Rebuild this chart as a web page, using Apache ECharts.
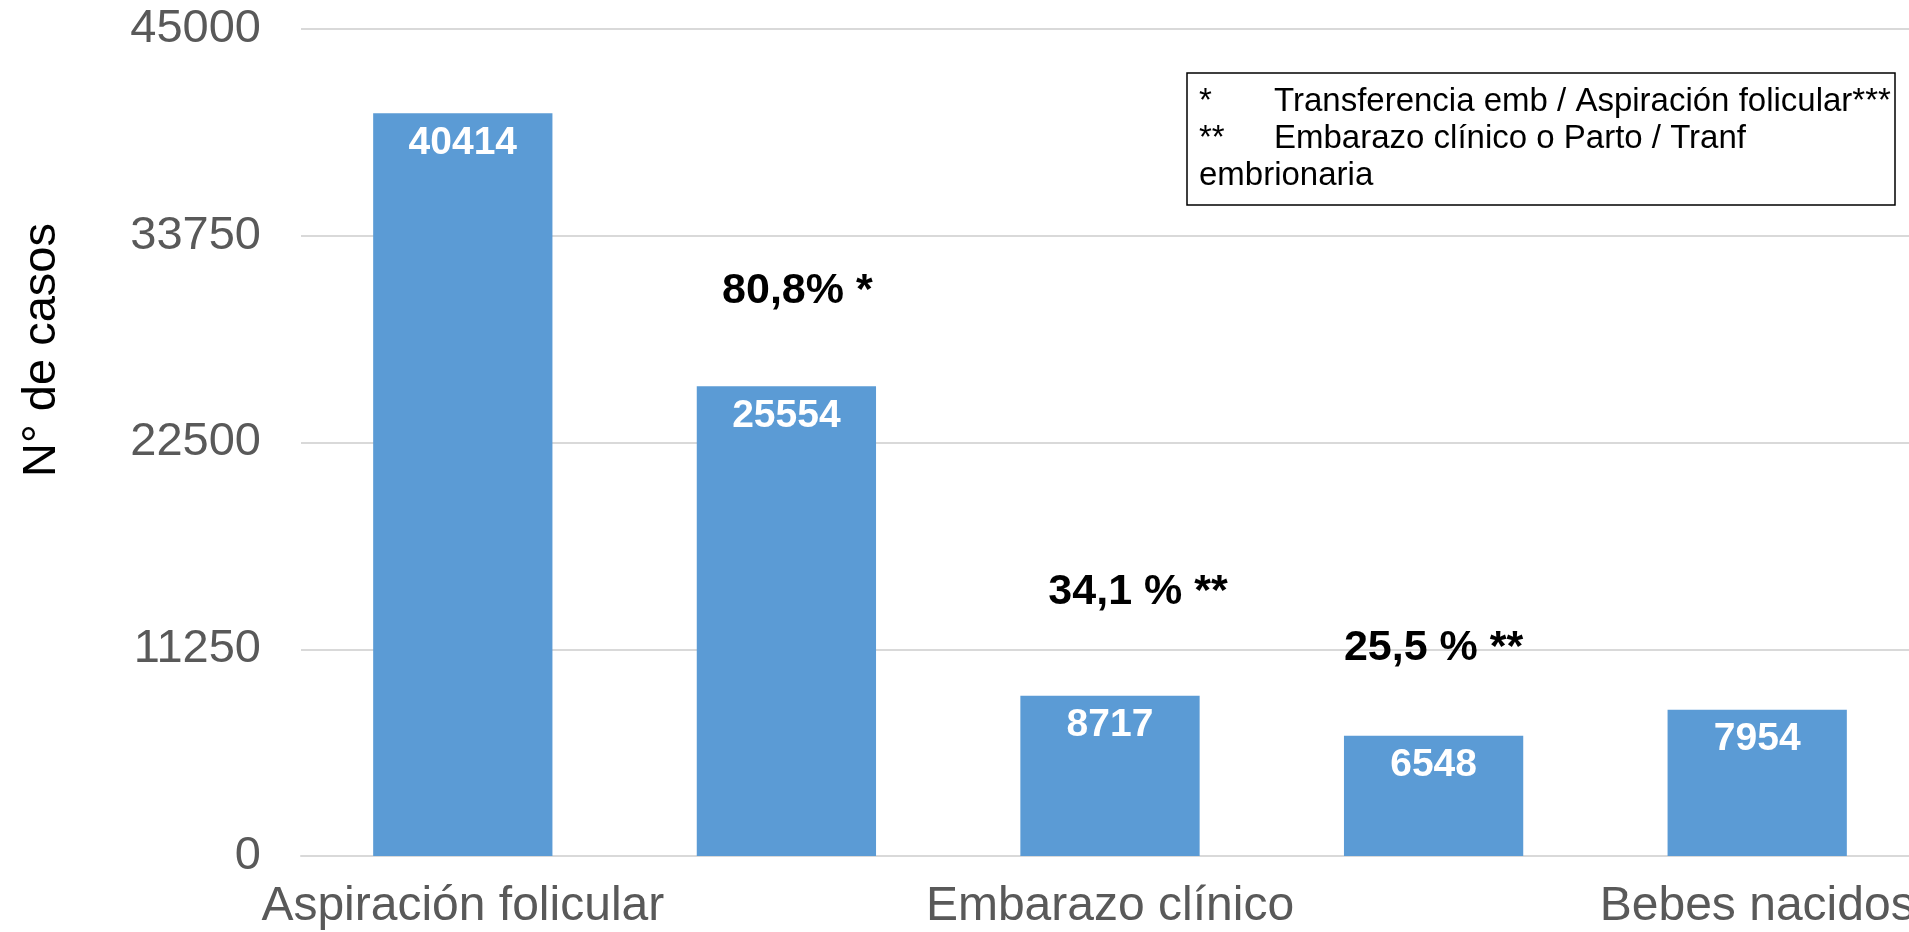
<!DOCTYPE html>
<html>
<head>
<meta charset="utf-8">
<script src="https://cdn.jsdelivr.net/npm/echarts@6/dist/echarts.min.js"></script>
<style>
html,body{margin:0;padding:0;background:#fff;}
#chart{width:1909px;height:932px;}
</style>
</head>
<body>
<div id="chart"></div>
<script>
const categories = ["Aspiración folicular", "Transferencia embrionaria", "Embarazo clínico", "Parto", "Bebes nacidos"];
const casos = [40414, 25554, 8717, 6548, 7954];
const annotations = ["", "80,8% *", "34,1 % **", "25,5 % **", ""];
const yTicks = [0, 11250, 22500, 33750, 45000];
const yAxisTitle = "N° de casos";
const noteLines = [
  ["*", "Transferencia emb / Aspiración folicular***"],
  ["**", "Embarazo clínico o Parto / Tranf"],
  ["", "embrionaria"]
];

// label layout tweaks for the hand-placed annotation text boxes
const annotationOffsets = [[0, 0], [11, 0], [28, -8], [0, 8], [0, 0]];

const FONT = "'Liberation Sans', Arial, sans-serif";
const chart = echarts.init(document.getElementById('chart'), null, {renderer: 'canvas'});

const noteGraphics = [];
noteGraphics.push({
  type: 'rect',
  shape: {x: 1187, y: 73, width: 708, height: 132},
  style: {fill: '#fff', stroke: '#000', lineWidth: 1.5},
  z: 10
});
noteLines.forEach((ln, i) => {
  const y = 102 + i * 37;
  if (ln[0]) {
    noteGraphics.push({type: 'text', x: 1199, y: y, z: 11,
      style: {text: ln[0], font: '33px ' + FONT, fill: '#000', textAlign: 'left', textVerticalAlign: 'middle'}});
  }
  noteGraphics.push({type: 'text', x: ln[0] ? 1274 : 1199, y: y, z: 11,
    style: {text: ln[1], font: '33px ' + FONT, fill: '#000', textAlign: 'left', textVerticalAlign: 'middle'}});
});

const option = {
  animation: false,
  backgroundColor: '#fff',
  grid: {left: 301, right: -10, top: 29, bottom: 76, containLabel: false, outerBoundsMode: 'none'},
  xAxis: {
    type: 'category',
    data: categories,
    axisLine: {show: true, lineStyle: {color: '#d9d9d9', width: 2}},
    axisTick: {show: false},
    axisLabel: {interval: 1, color: '#595959', fontSize: 48, fontFamily: FONT, margin: 27, hideOverlap: false}
  },
  yAxis: {
    type: 'value',
    min: yTicks[0],
    max: yTicks[yTicks.length - 1],
    interval: yTicks[1] - yTicks[0],
    axisLine: {show: false},
    axisTick: {show: false},
    splitLine: {lineStyle: {color: '#d9d9d9', width: 2}},
    axisLabel: {color: '#595959', fontSize: 47, fontFamily: FONT, margin: 40, formatter: v => String(v)}
  },
  series: [
    {
      type: 'bar',
      data: casos,
      barWidth: '55.4%',
      itemStyle: {color: '#5B9BD5'},
      label: {
        show: true, position: 'insideTop', distance: 10,
        color: '#fff', fontWeight: 'bold', fontSize: 39, fontFamily: FONT
      },
      z: 2
    },
    {
      type: 'bar',
      data: casos.map((v, i) => ({
        value: v,
        label: {offset: annotationOffsets[i]}
      })),
      barWidth: '55.4%',
      barGap: '-100%',
      silent: true,
      itemStyle: {color: 'rgba(0,0,0,0)'},
      label: {
        show: true, position: 'top', distance: 74,
        formatter: p => annotations[p.dataIndex],
        color: '#000', fontWeight: 'bold', fontSize: 43, fontFamily: FONT
      },
      z: 3
    }
  ],
  graphic: [
    {
      type: 'text', x: 42, y: 350, rotation: Math.PI / 2,
      style: {text: yAxisTitle, font: '47px ' + FONT, fill: '#000', textAlign: 'center', textVerticalAlign: 'middle'}
    }
  ].concat(noteGraphics)
};
chart.setOption(option);
</script>
</body>
</html>
